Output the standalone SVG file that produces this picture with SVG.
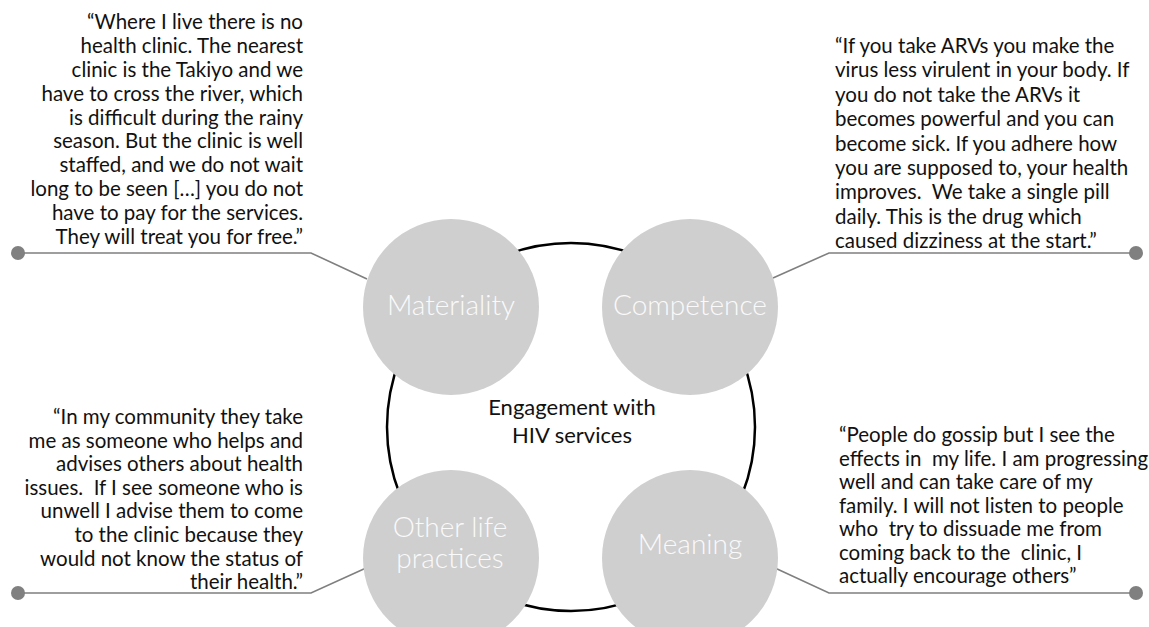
<svg xmlns="http://www.w3.org/2000/svg" width="1149" height="627" viewBox="0 0 1149 627">
<style>
.q{font-family:Lato,"Liberation Sans",sans-serif;font-size:20.5px;fill:#111;white-space:pre}
.r{text-anchor:end}
.lbl{font-family:Lato,"Open Sans",sans-serif;font-weight:300;font-size:28px;fill:#fafafa;text-anchor:middle}
.ctr{font-family:Lato,"Liberation Sans",sans-serif;font-size:22px;fill:#111;text-anchor:middle}
.node{fill:#cfcfcf}
.con{fill:none;stroke:#7f7f7f;stroke-width:1.6}
.dot{fill:#808080}
</style>
<rect width="1149" height="627" fill="#fff"/>
<g id="connectors">
<polyline class="con" points="18,253 311,253 367,279"/>
<circle class="dot" cx="18" cy="253" r="7"/>
<polyline class="con" points="1136,253 829,253 773,278"/>
<circle class="dot" cx="1136" cy="253" r="7"/>
<polyline class="con" points="18,593 311,593 366,568"/>
<circle class="dot" cx="18" cy="593" r="7"/>
<polyline class="con" points="1136,593 829,593 775,568"/>
<circle class="dot" cx="1136" cy="593" r="7"/>
</g>
<g id="engagement">
<circle cx="571" cy="427" r="184" fill="none" stroke="#000" stroke-width="2.5"/>
<text class="ctr" x="572" y="415">Engagement with</text>
<text class="ctr" x="572" y="443">HIV services</text>
</g>
<g id="materiality">
<circle class="node" cx="451" cy="307" r="88"/>
<text class="lbl" x="451" y="315">Materiality</text>
</g>
<g id="competence">
<circle class="node" cx="690" cy="307" r="88"/>
<text class="lbl" x="690" y="315">Competence</text>
</g>
<g id="other-life-practices">
<circle class="node" cx="451" cy="558" r="88"/>
<text class="lbl" x="450" y="537">Other life</text>
<text class="lbl" x="450" y="568">practices</text>
</g>
<g id="meaning">
<circle class="node" cx="690" cy="558" r="88"/>
<text class="lbl" x="690" y="554">Meaning</text>
</g>
<g id="quote-materiality">
<text class="q r" x="303" y="29">“Where I live there is no</text>
<text class="q r" x="303" y="53">health clinic. The nearest</text>
<text class="q r" x="303" y="77">clinic is the Takiyo and we</text>
<text class="q r" x="303" y="101">have to cross the river, which</text>
<text class="q r" x="303" y="125">is difficult during the rainy</text>
<text class="q r" x="303" y="148">season. But the clinic is well</text>
<text class="q r" x="303" y="172">staffed, and we do not wait</text>
<text class="q r" x="303" y="196">long to be seen […] you do not</text>
<text class="q r" x="303" y="220">have to pay for the services.</text>
<text class="q r" x="303" y="244">They will treat you for free.”</text>
</g>
<g id="quote-competence">
<text class="q" x="835" y="53">“If you take ARVs you make the</text>
<text class="q" x="835" y="77">virus less virulent in your body. If</text>
<text class="q" x="835" y="102">you do not take the ARVs it</text>
<text class="q" x="835" y="126">becomes powerful and you can</text>
<text class="q" x="835" y="151">become sick. If you adhere how</text>
<text class="q" x="835" y="175">you are supposed to, your health</text>
<text class="q" x="835" y="199">improves.  We take a single pill</text>
<text class="q" x="835" y="224">daily. This is the drug which</text>
<text class="q" x="835" y="248">caused dizziness at the start.”</text>
</g>
<g id="quote-other">
<text class="q r" x="303" y="424">“In my community they take</text>
<text class="q r" x="303" y="448">me as someone who helps and</text>
<text class="q r" x="303" y="471">advises others about health</text>
<text class="q r" x="303" y="495">issues.  If I see someone who is</text>
<text class="q r" x="303" y="518">unwell I advise them to come</text>
<text class="q r" x="303" y="542">to the clinic because they</text>
<text class="q r" x="303" y="566">would not know the status of</text>
<text class="q r" x="303" y="589">their health.”</text>
</g>
<g id="quote-meaning">
<text class="q" x="839" y="442">“People do gossip but I see the</text>
<text class="q" x="839" y="466">effects in  my life. I am progressing</text>
<text class="q" x="839" y="489">well and can take care of my</text>
<text class="q" x="839" y="513">family. I will not listen to people</text>
<text class="q" x="839" y="536">who  try to dissuade me from</text>
<text class="q" x="839" y="560">coming back to the  clinic, I</text>
<text class="q" x="839" y="583">actually encourage others”</text>
</g>
</svg>
